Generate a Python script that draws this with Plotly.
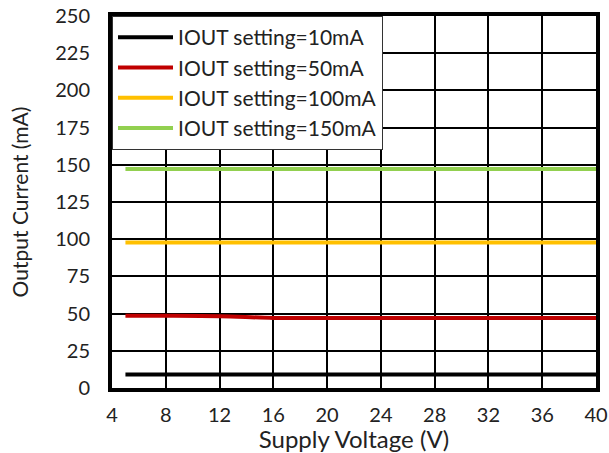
import plotly.graph_objects as go

voltage = [5, 8, 12, 16, 20, 24, 28, 32, 36, 40]
iout_10 = [9.0, 9.0, 9.0, 9.0, 9.0, 9.0, 9.0, 9.0, 9.0, 9.0]
iout_50 = [48.6, 48.6, 48.3, 47.1, 47.0, 47.0, 47.0, 47.0, 47.0, 47.0]
iout_100 = [97.8, 97.8, 97.8, 97.8, 97.8, 97.8, 97.8, 97.8, 97.8, 97.8]
iout_150 = [147.1, 147.1, 147.1, 147.1, 147.1, 147.1, 147.1, 147.1, 147.1, 147.1]

series = [
    ("IOUT setting=10mA", iout_10, "#000000"),
    ("IOUT setting=50mA", iout_50, "#C00000"),
    ("IOUT setting=100mA", iout_100, "#FFC000"),
    ("IOUT setting=150mA", iout_150, "#92D050"),
]

fig = go.Figure()
for name, vals, color in series:
    fig.add_trace(go.Scatter(x=voltage, y=vals, name=name, mode="lines",
                             line=dict(color=color, width=4, shape="spline")))

fig.update_layout(
    width=609, height=453,
    margin=dict(l=112, r=13, t=16, b=65),
    paper_bgcolor="white", plot_bgcolor="white",
    font=dict(family="Lato", size=20, color="#222222"),
    showlegend=True,
    legend=dict(x=0, y=1, xanchor="left", yanchor="top",
                bgcolor="white", bordercolor="#333333", borderwidth=1,
                font=dict(size=21, family="Lato", color="#222222"),
                tracegroupgap=0, itemwidth=55),
    xaxis=dict(range=[4, 40], tick0=4, dtick=4, showgrid=True,
               gridcolor="black", gridwidth=1.5, zeroline=False,
               showline=True, linecolor="black", linewidth=4, mirror=True,
               ticks="", ticklabelstandoff=6, automargin=False,
               tickfont=dict(size=20),
               title=dict(text="Supply Voltage (V)", standoff=0,
                          font=dict(size=24))),
    yaxis=dict(range=[0, 250], tick0=0, dtick=25, showgrid=True,
               gridcolor="black", gridwidth=1.5, zeroline=False,
               showline=True, linecolor="black", linewidth=4, mirror=True,
               ticks="", ticklabelstandoff=14, automargin=False,
               tickfont=dict(size=20),
               title=dict(text="Output Current (mA)", standoff=22,
                          font=dict(size=21))),
)

fig.write_html("out.html")
